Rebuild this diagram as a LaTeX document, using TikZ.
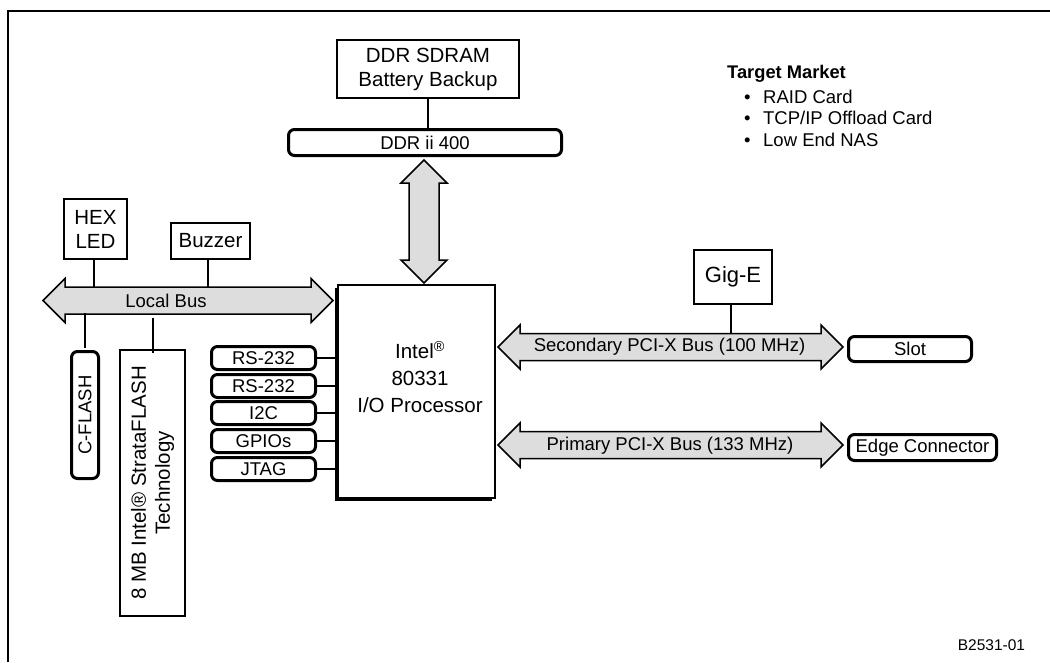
\documentclass[tikz,border=0pt]{standalone}
\usepackage{fontspec}
\setmainfont{Liberation Sans}
\usetikzlibrary{shadows}
\definecolor{busgray}{HTML}{DDDDDD}
\tikzset{
  every node/.style={font=\fontsize{18.5}{21}\selectfont, inner sep=0pt},
  plainbox/.style={draw, line width=1.8pt, fill=white, align=center},
  roundbox/.style={draw, line width=3pt, rounded corners=6pt, fill=white, align=center},
  wire/.style={line width=2pt},
  bus/.style={draw, line width=1.5pt, fill=busgray, line join=miter},
  big/.style={font=\fontsize{20.5}{24}\selectfont},
}
\newcommand\hbus[3]{\draw[bus] (#1,#3) -- ++(22,-22) -- ++(0,8.5) -- ++({#2-#1-44},0) -- ++(0,-8.5) -- ++(22,22) -- ++(-22,22) -- ++(0,-8.5) -- ++({#1-#2+44},0) -- ++(0,8.5) -- cycle;}
\newcommand\vbus[3]{\draw[bus] (#1,#2) -- ++(23,23) -- ++(-8,0) -- ++(0,{#3-#2-46}) -- ++(8,0) -- ++(-23,23) -- ++(-23,-23) -- ++(8,0) -- ++(0,{#2-#3+46}) -- ++(-8,0) -- cycle;}
\begin{document}
\begin{tikzpicture}[x=1pt,y=-1pt]
\useasboundingbox (0,0) rectangle (1050,662);
% frame
\draw[line width=2pt] (8,662) -- (8,11) -- (1050,11);

% buses
\hbus{43}{333}{300.5}
\hbus{498}{843}{347}
\hbus{498}{843}{445}
\vbus{424}{160}{283}
\coordinate (lbN) at (0,286.5);
\coordinate (lbS) at (0,314.5);
\coordinate (secN) at (0,333.5);
\node (lbus) at (166,300.5) {Local Bus};
\node (sbus) at (669.5,347) {Secondary PCI-X Bus (100 MHz)};
\node (pbus) at (670,446) {Primary PCI-X Bus (133 MHz)};

% memory
\node[plainbox, big, minimum width=182, minimum height=58] (sdram) at (428,69) {DDR SDRAM\\Battery Backup};
\node[roundbox, minimum width=273, minimum height=26] (ddr) at (425,142.5) {DDR ii 400};
\draw[wire] (sdram.south) -- (sdram.south |- ddr.north);

% processor
\node[plainbox, general shadow={fill=black, shadow xshift=-3pt, shadow yshift=-3pt}, minimum width=157, minimum height=213] (proc) at (416.5,391.5) {};
\node[align=center, font=\fontsize{20.5}{27}\selectfont] (proctxt) at (420,377) {Intel\textsuperscript{®}\\80331\\I/O Processor};

% local bus devices
\node[plainbox, big, minimum width=63, minimum height=60] (hex) at (95.5,229) {HEX\\LED};
\node[plainbox, big, minimum width=79, minimum height=36] (buzz) at (210.5,241) {Buzzer};
\draw[wire] ([xshift=-1.5pt]hex.south) -- ([xshift=-1.5pt]hex.south |- lbN);
\draw[wire] ([xshift=-2.5pt]buzz.south) -- ([xshift=-2.5pt]buzz.south |- lbN);
\node[roundbox, rotate=90, minimum width=127, minimum height=27] (cf) at (85,415) {C-FLASH};
\node[plainbox, rotate=90, minimum width=266, minimum height=65, font=\fontsize{20.5}{24}\selectfont] (flash) at (152.5,483) {8 MB Intel® StrataFLASH\\Technology};
\draw[wire] ([yshift=2pt]cf.east) -- ([yshift=2pt]cf.east |- lbS);
\draw[wire] ([yshift=-3.5pt]flash.east) -- ([yshift=-3.5pt]flash.east |- lbS);

% serial interfaces
\foreach \n/\t/\y in {rsa/RS-232/358, rsb/RS-232/386, iic/I2C/413, gpio/GPIOs/441, jtag/JTAG/469} {
  \node[roundbox, minimum width=104, minimum height=23] (\n) at (263.5,\y) {\t};
  \draw[wire] (\n.east) -- (\n.east -| proc.west);
}

% PCI side
\node[plainbox, minimum width=78, minimum height=54, font=\fontsize{22}{26}\selectfont] (gige) at (733,277) {Gig-E};
\draw[wire] ([xshift=-2pt]gige.south) -- ([xshift=-2pt]gige.south |- secN);
\node[roundbox, minimum width=123, minimum height=25] (slot) at (910,349) {Slot};
\node[roundbox, minimum width=148, minimum height=26] (edge) at (922.5,447.5) {Edge Connector};

% target market
\node[anchor=base west, font=\bfseries\fontsize{18.3}{21}\selectfont] (tm) at (727,78) {Target Market};
\node[anchor=base west] (tma) at (727,103) {\makebox[36pt][l]{\hspace{17pt}•}RAID Card};
\node[anchor=base west] (tmb) at (727,124.5) {\makebox[36pt][l]{\hspace{17pt}•}TCP/IP Offload Card};
\node[anchor=base west] (tmc) at (727,146) {\makebox[36pt][l]{\hspace{17pt}•}Low End NAS};

\node[font=\fontsize{15.5}{18}\selectfont] (code) at (991.5,645) {B2531-01};
\end{tikzpicture}
\end{document}
